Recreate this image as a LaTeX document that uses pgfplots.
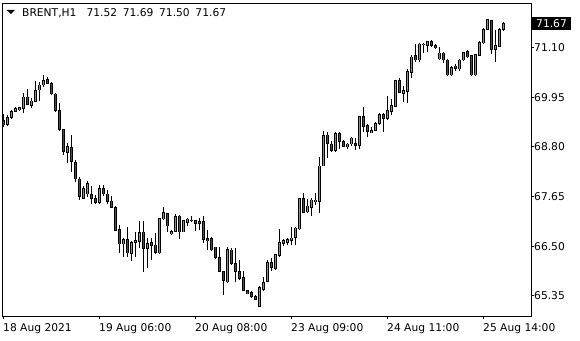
\documentclass[border=0pt]{standalone}
\usepackage{pgfplots}
\pgfplotsset{compat=1.18}
\usepackage{pgfplotstable}
\usepackage{fontspec}
\setmainfont{DejaVu Sans}
\definecolor{cgreen}{RGB}{50,205,50}
\definecolor{cred}{RGB}{255,0,0}
% rising candles (close > open)
\pgfplotstableread{
x o h l c
1 69.33 69.55 69.29 69.49
2 69.49 69.66 69.46 69.63
3 69.63 69.72 69.62 69.69
4 69.67 69.74 69.63 69.71
5 69.69 70.06 69.59 69.96
7 69.76 69.94 69.71 69.87
8 69.86 70.34 69.85 70.11
9 70.12 70.31 69.87 70.24
10 70.24 70.46 70.20 70.34
16 68.68 68.90 68.44 68.81
20 67.61 67.90 67.59 67.83
21 67.71 68.01 67.63 67.95
24 67.51 67.93 67.48 67.83
30 66.55 66.69 66.24 66.65
32 66.34 66.61 66.16 66.59
33 66.59 66.82 66.24 66.63
34 66.61 67.09 66.45 66.81
36 66.44 66.69 65.99 66.57
39 66.34 67.16 66.31 67.15
40 67.13 67.40 67.11 67.28
42 66.79 66.88 66.76 66.84
43 66.84 67.24 66.82 67.19
45 66.83 67.11 66.82 67.09
46 67.05 67.16 66.97 67.13
49 67.03 67.15 66.88 67.07
56 65.67 66.48 65.64 66.43
64 65.10 65.58 65.10 65.54
65 65.49 65.78 65.47 65.66
66 65.68 66.18 65.66 66.13
68 65.99 66.32 65.95 66.30
69 66.28 66.90 66.26 66.59
70 66.57 66.66 66.51 66.63
71 66.58 66.69 66.53 66.65
72 66.63 66.95 66.53 66.69
73 66.70 66.95 66.53 66.92
74 66.90 67.61 66.88 67.60
76 67.29 67.59 67.27 67.43
77 67.40 67.61 67.21 67.57
78 67.53 67.73 67.46 67.57
79 67.53 68.58 67.27 68.36
80 68.36 69.18 68.35 69.06
83 68.72 69.14 68.68 69.12
86 68.80 68.90 68.75 68.87
87 68.87 69.03 68.83 69.01
89 68.83 69.52 68.76 69.51
92 69.14 69.27 69.14 69.18
93 69.18 69.39 69.16 69.34
94 69.34 69.59 69.31 69.55
96 69.47 69.99 69.43 69.65
97 69.62 69.91 69.55 69.76
98 69.74 70.36 69.72 70.34
100 70.05 70.22 69.85 70.11
101 70.09 70.61 69.83 70.55
102 70.53 70.94 70.40 70.89
104 70.82 71.21 70.78 71.19
105 71.17 71.21 70.98 71.19
106 71.15 71.27 71.01 71.25
109 70.84 71.13 70.82 70.98
112 70.47 70.68 70.45 70.65
114 70.61 70.84 70.57 70.82
115 70.82 71.01 70.80 71.00
118 70.47 70.94 70.45 70.94
119 70.92 71.25 70.92 71.23
120 71.21 71.56 71.19 71.53
121 71.53 71.77 71.52 71.75
123 71.07 71.52 70.76 71.15
124 71.13 71.56 71.12 71.53
125 71.52 71.69 71.50 71.67
}\upbars
% falling candles (close < open)
\pgfplotstableread{
x o h l c
0 69.41 69.57 69.27 69.31
6 69.96 70.15 69.78 69.79
11 70.36 70.43 70.27 70.28
12 70.27 70.30 70.01 70.03
13 70.03 70.05 69.62 69.64
14 69.64 69.82 69.18 69.20
15 69.21 69.23 68.62 68.69
17 68.79 69.08 68.21 68.46
18 68.45 68.50 67.98 68.06
19 68.06 68.11 67.57 67.65
22 67.69 67.90 67.47 67.60
23 67.61 67.69 67.47 67.52
25 67.83 67.93 67.67 67.71
26 67.71 67.81 67.47 67.53
27 67.55 67.67 67.38 67.40
28 67.40 67.42 66.84 66.86
29 66.88 66.99 66.34 66.55
31 66.65 66.94 66.26 66.34
35 66.83 67.09 65.91 66.44
37 66.59 66.69 66.18 66.51
38 66.53 66.80 66.31 66.36
41 67.26 67.28 66.82 66.97
44 67.20 67.23 66.67 66.83
47 67.11 67.20 67.05 67.09
48 67.09 67.09 66.85 67.03
50 67.07 67.20 66.57 66.65
51 66.67 66.88 66.41 66.63
52 66.67 66.71 66.39 66.41
53 66.48 66.49 66.21 66.24
54 66.24 66.48 65.89 65.91
55 65.92 65.93 65.37 65.70
57 66.41 66.45 66.07 66.09
58 66.09 66.45 65.68 65.91
59 65.92 66.17 65.72 65.75
60 65.78 65.93 65.45 65.47
61 65.48 65.49 65.39 65.39
62 65.42 65.46 65.31 65.33
63 65.33 65.37 65.25 65.27
67 66.13 66.22 65.93 66.01
75 67.60 67.74 67.27 67.29
81 69.08 69.14 68.54 68.89
82 68.87 68.93 68.69 68.72
84 69.11 69.14 68.76 68.93
85 68.93 68.97 68.79 68.81
88 68.89 69.01 68.73 68.83
90 69.51 69.72 69.14 69.27
91 69.29 69.34 69.04 69.16
95 69.55 69.59 69.16 69.47
99 70.34 70.40 70.05 70.06
103 70.92 71.19 70.78 70.82
107 71.25 71.29 71.12 71.15
108 71.15 71.19 71.08 71.11
110 70.98 71.01 70.75 70.82
111 70.82 70.84 70.45 70.47
113 70.68 70.72 70.57 70.63
116 71.01 71.05 70.86 70.89
117 70.92 70.94 70.45 70.47
122 71.73 71.75 70.95 71.07
}\downbars
\begin{document}
\fontsize{10.7}{12}\selectfont
\begin{tikzpicture}
\path[use as bounding box, fill=white] (-2pt,-24pt) rectangle (578pt,316pt);
\begin{axis}[scale only axis, width=529pt, height=313pt,
  xmin=-0.375, xmax=131.875, ymin=64.88, ymax=72.14,
  axis line style={line width=1pt, black},
  xtick={0,24,48,72,96,120},
  xticklabels={18 Aug 2021,19 Aug 06:00,20 Aug 08:00,23 Aug 09:00,24 Aug 11:00,25 Aug 14:00},
  ytick={65.35,66.50,67.65,68.80,69.95,71.10},
  yticklabels={65.35,66.50,67.65,68.80,69.95,71.10},
  xtick pos=bottom, ytick pos=right, yticklabel pos=right,
  tick align=outside, major tick length=3pt,
  tick style={black, line width=1pt},
  every tick label/.append style={font=\fontsize{10.7}{12}\selectfont, text=black},
  xticklabel style={anchor=north west, inner sep=0pt, xshift=-0.5pt, yshift=-4pt},
  yticklabel style={anchor=west, inner sep=0pt},
  candle/.style={only marks, mark=none, mark options={opacity=0},
    error bars/y dir=both, error bars/y explicit, error bars/error mark=none},
]
% wicks (high-low)
\addplot[candle, color=black, error bars/error bar style={solid, line width=1pt}]
  table[x=x, y expr={(\thisrow{h}+\thisrow{l})/2}, y error expr={(\thisrow{h}-\thisrow{l})/2}] {\upbars};
\addplot[candle, color=black, error bars/error bar style={solid, line width=1pt}]
  table[x=x, y expr={(\thisrow{h}+\thisrow{l})/2}, y error expr={(\thisrow{h}-\thisrow{l})/2}] {\downbars};
% body outlines (slightly longer at each end)
\addplot[candle, color=black, error bars/error bar style={solid, line width=3.2pt}]
  table[x=x, y expr={(\thisrow{o}+\thisrow{c})/2}, y error expr={(\thisrow{c}-\thisrow{o})/2+0.0093}] {\upbars};
\addplot[candle, color=black, error bars/error bar style={solid, line width=3.2pt}]
  table[x=x, y expr={(\thisrow{o}+\thisrow{c})/2}, y error expr={(\thisrow{o}-\thisrow{c})/2+0.0093}] {\downbars};
% body fills (slightly shorter at each end)
\addplot[candle, color=cgreen, error bars/error bar style={solid, line width=1.6pt}]
  table[x=x, y expr={(\thisrow{o}+\thisrow{c})/2}, y error expr={(\thisrow{c}-\thisrow{o})/2-0.0093}] {\upbars};
\addplot[candle, color=cred, error bars/error bar style={solid, line width=1.6pt}]
  table[x=x, y expr={(\thisrow{o}+\thisrow{c})/2}, y error expr={(\thisrow{o}-\thisrow{c})/2-0.0093}] {\downbars};
\coordinate (lastp) at (axis cs:131.875,71.67);
\end{axis}
\fill[black] (4.7pt,306pt) -- (13pt,306pt) -- (8.85pt,302pt) -- cycle;
\node[anchor=base west, inner sep=0pt] at (20pt,299.3pt) {BRENT,H1\hspace{10pt}71.52\hspace{5.7pt}71.69\hspace{5.7pt}71.50\hspace{5.7pt}71.67};
\node[fill=black, text=white, anchor=west, inner xsep=4.5pt, inner ysep=2.7pt, xshift=0.5pt] at (lastp) {71.67};
\end{tikzpicture}
\end{document}
